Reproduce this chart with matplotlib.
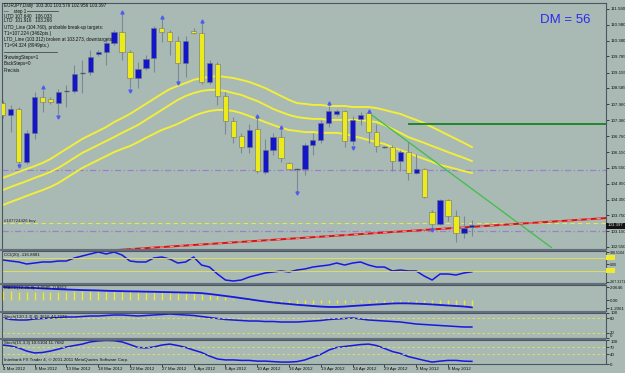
import matplotlib
matplotlib.use('Agg')
import matplotlib.pyplot as plt
from matplotlib.patches import Rectangle
from matplotlib.lines import Line2D

W, H = 625, 373
BG = '#A8BAB3'
SEP = '#636d7c'
YEL = '#EDEA1C'
BLUE = '#1414C8'
WICK = '#7C8894'
BAND = '#F2EE3A'
FONT = 'Liberation Sans'

# ---------------- data ----------------
opens = [108.013, 107.558, 107.785, 105.775, 106.875, 108.241, 108.165, 108.013, 108.469, 108.469,
         109.151, 109.189, 109.872, 109.948, 110.290, 110.707, 109.948, 108.962, 109.341, 109.721,
         110.859, 110.707, 110.366, 109.531, 110.745, 110.669, 108.810, 109.493, 108.279, 107.330,
         106.761, 106.344, 107.027, 105.395, 106.230, 106.723, 105.737, 105.509, 105.509, 106.420,
         106.610, 107.254, 107.596, 107.710, 106.572, 107.406, 107.634, 106.913, 106.344, 106.344,
         105.813, 106.154, 105.357, 105.509, 103.878, 103.422, 104.333, 103.726, 103.081, 103.301]
highs = [108.127, 107.937, 107.861, 106.989, 108.431, 108.506, 108.241, 108.544, 108.696, 109.455,
         109.645, 110.024, 110.024, 110.403, 110.783, 111.390, 110.024, 109.569, 109.834, 110.935,
         111.200, 110.783, 110.555, 110.555, 110.859, 111.086, 109.645, 109.569, 108.431, 107.482,
         106.875, 107.216, 107.444, 106.647, 106.875, 106.989, 105.775, 105.547, 106.496, 106.875,
         107.368, 107.899, 107.786, 107.748, 107.520, 107.672, 107.710, 107.216, 106.382, 106.420,
         106.230, 106.534, 106.078, 105.547, 103.954, 104.371, 104.371, 103.954, 103.726, 103.576]
lows = [107.444, 106.913, 105.661, 105.699, 106.647, 107.672, 107.975, 107.596, 107.861, 108.393,
        108.393, 109.076, 109.796, 109.455, 110.214, 109.645, 108.582, 108.582, 109.265, 109.189,
        110.328, 109.834, 108.772, 109.000, 110.631, 108.734, 108.734, 107.937, 106.837, 106.496,
        106.116, 106.116, 105.357, 105.320, 106.040, 105.775, 105.471, 104.637, 105.282, 106.040,
        106.496, 107.103, 107.520, 106.344, 106.420, 107.179, 106.496, 106.154, 106.306, 105.433,
        105.433, 105.092, 105.320, 104.409, 103.233, 103.385, 103.536, 102.740, 102.891, 102.956]
closes = [107.558, 107.785, 105.775, 106.875, 108.241, 108.051, 108.051, 108.431, 108.469, 109.113,
          109.151, 109.758, 109.948, 110.290, 110.707, 109.948, 108.962, 109.303, 109.682, 110.859,
          110.707, 110.366, 109.531, 110.366, 110.669, 108.810, 109.531, 108.279, 107.330, 106.723,
          106.344, 106.989, 105.433, 106.230, 106.723, 105.927, 105.509, 105.509, 106.420, 106.610,
          107.254, 107.710, 107.710, 106.572, 107.368, 107.558, 106.913, 106.382, 106.344, 105.813,
          106.154, 105.357, 105.509, 104.447, 103.422, 104.333, 103.726, 103.081, 103.271, 103.397]

band_top = [105.17, 105.28, 105.40, 105.51, 105.62, 105.74, 105.89, 106.08, 106.27, 106.46,
            106.65, 106.80, 106.95, 107.10, 107.29, 107.44, 107.60, 107.79, 107.98, 108.17,
            108.36, 108.54, 108.66, 108.77, 108.89, 108.96, 109.00, 109.04, 109.00, 108.96,
            108.89, 108.81, 108.70, 108.58, 108.43, 108.28, 108.13, 108.01, 107.98, 107.94,
            107.94, 107.90, 107.90, 107.90, 107.86, 107.86, 107.86, 107.82, 107.75, 107.67,
            107.60, 107.48, 107.37, 107.25, 107.10, 106.95, 106.80, 106.65, 106.50, 106.34]
band_mid = [104.71, 104.83, 104.94, 105.05, 105.17, 105.28, 105.40, 105.55, 105.74, 105.93,
            106.12, 106.27, 106.42, 106.57, 106.72, 106.88, 107.03, 107.18, 107.37, 107.56,
            107.75, 107.94, 108.13, 108.28, 108.39, 108.47, 108.51, 108.51, 108.47, 108.39,
            108.32, 108.20, 108.09, 107.94, 107.79, 107.67, 107.56, 107.48, 107.44, 107.41,
            107.41, 107.37, 107.37, 107.37, 107.37, 107.37, 107.33, 107.29, 107.18, 107.03,
            106.88, 106.72, 106.61, 106.50, 106.38, 106.27, 106.15, 106.04, 105.93, 105.81]
band_low = [104.14, 104.26, 104.37, 104.49, 104.60, 104.71, 104.83, 104.98, 105.17, 105.36,
            105.55, 105.70, 105.85, 106.00, 106.15, 106.27, 106.38, 106.53, 106.69, 106.84,
            106.99, 107.10, 107.22, 107.37, 107.52, 107.63, 107.71, 107.75, 107.75, 107.71,
            107.63, 107.52, 107.41, 107.29, 107.18, 107.07, 106.99, 106.95, 106.91, 106.91,
            106.88, 106.88, 106.88, 106.84, 106.76, 106.69, 106.61, 106.53, 106.46, 106.34,
            106.23, 106.12, 106.00, 105.89, 105.78, 105.66, 105.59, 105.51, 105.43, 105.36]

frac_up_idx = [5, 15, 20, 25, 32, 35, 41, 46]
frac_up_val = [108.62, 111.47, 111.28, 111.13, 107.52, 107.10, 108.01, 107.71]
frac_dn_idx = [2, 7, 16, 22, 37, 44, 54]
frac_dn_val = [105.62, 107.48, 108.47, 108.77, 104.60, 106.31, 103.19]

cci = [66, 50, 35, 4, 19, 35, 35, 50, 50, 97, 128, 159, 189, 159, 189, 143, 50, 35, 35, 97,
       112, 81, 19, 35, 112, -12, -43, -151, -244, -259, -244, -197, -166, -135, -120, -104, -120,
       -89, -73, -43, -27, -12, 19, -12, 19, 35, -12, -43, -43, -104, -89, -104, -104, -182,
       -244, -151, -151, -166, -135, -117]
macd_hist = [1.40, 1.38, 1.30, 1.25, 1.28, 1.30, 1.30, 1.32, 1.33, 1.38, 1.42, 1.45, 1.50, 1.52,
             1.55, 1.50, 1.40, 1.35, 1.32, 1.35, 1.35, 1.30, 1.22, 1.20, 1.18, 1.00, 0.85, 0.65,
             0.45, 0.25, 0.10, -0.05, -0.15, -0.25, -0.35, -0.40, -0.48, -0.52, -0.55, -0.52,
             -0.48, -0.42, -0.38, -0.35, -0.30, -0.28, -0.30, -0.32, -0.36, -0.42, -0.45, -0.50,
             -0.55, -0.62, -0.72, -0.78, -0.82, -0.88, -0.95, -1.05]
macd_sig = [2.07, 2.03, 2.00, 1.95, 1.92, 1.85, 1.79, 1.73, 1.68, 1.64, 1.59, 1.56, 1.53, 1.48,
            1.45, 1.42, 1.39, 1.37, 1.34, 1.32, 1.29, 1.26, 1.23, 1.20, 1.17, 1.11, 0.98, 0.83,
            0.67, 0.51, 0.33, 0.16, -0.03, -0.19, -0.34, -0.47, -0.58, -0.70, -0.79, -0.89,
            -0.98, -1.04, -1.04, -0.98, -0.89, -0.81, -0.73, -0.65, -0.58, -0.50, -0.47, -0.48,
            -0.53, -0.58, -0.65, -0.73, -0.81, -0.89, -0.97, -1.10]
stoch1 = [80, 74, 72, 72, 76, 78, 80, 82, 84, 84, 86, 88, 88, 90, 92, 92, 90, 88, 90, 92,
          94, 96, 94, 92, 90, 86, 82, 78, 74, 72, 70, 68, 68, 66, 66, 64, 64, 64, 66, 68,
          70, 74, 76, 78, 80, 76, 72, 70, 68, 66, 64, 60, 56, 54, 52, 50, 48, 46, 44, 44]
stoch2 = [79, 75, 67, 54, 46, 48, 54, 62, 71, 77, 83, 92, 96, 98, 97, 92, 81, 69, 67, 71,
          79, 83, 77, 69, 58, 48, 33, 21, 17, 17, 15, 15, 12, 12, 10, 8, 8, 10, 17, 29,
          40, 58, 69, 73, 77, 81, 83, 77, 65, 52, 44, 31, 23, 15, 8, 12, 15, 15, 12, 11]

date_idx = [0, 4, 8, 12, 16, 20, 24, 28, 32, 36, 40, 44, 48, 52, 56]
date_lbl = ['4 Mar 2012', '8 Mar 2012', '13 Mar 2012', '18 Mar 2012', '22 Mar 2012',
            '27 Mar 2012', '1 Apr 2012', '6 Apr 2012', '10 Apr 2012', '16 Apr 2012',
            '19 Apr 2012', '24 Apr 2012', '29 Apr 2012', '3 May 2012', '8 May 2012']
price_ticks = [111.580, 110.980, 110.380, 109.785, 109.155, 108.585, 107.960, 107.360,
               106.760, 106.150, 105.550, 104.950, 104.350, 103.750, 103.150, 102.550]

hline_purple = [105.47, 103.17]
hline_order = 103.46
hline_green = 107.224
green_diag_x = [46, 69]
green_diag_y = [107.65, 102.53]
red_line_x = [10, 76]
red_line_y = [102.35, 103.65]
last_price = 103.397

info_lines = ['EURJPY,Daily  103.301 103.576 102.956 103.397',
              '',
              'UTD 107.640   106.033',
              'LTD  101.916   103.266',
              'UTD_Line (104.760), probable break-up targets:',
              'T1=107.224 (3462pts.)',
              'LTD_Line (103.312) broken at 103.273, downtargets:',
              'T1=94.324 (8949pts.)',
              '',
              'ShowingSteps=1',
              'BackSteps=0',
              'Precisis']
info_y = [5, 11, 16, 21, 27, 33, 39, 45, 52, 58, 64, 70]

# ---------------- figure ----------------
fig = plt.figure(figsize=(W / 100, H / 100), dpi=100)
fig.patch.set_facecolor(BG)
L, R = 2, 606
XL = (-0.1, 75.87)


def add_ax(top, bottom):
    ax = fig.add_axes([L / W, 1 - bottom / H, (R - L) / W, (bottom - top) / H])
    ax.set_facecolor(BG)
    ax.set_xlim(*XL)
    for s in ax.spines.values():
        s.set_color('#4e5664')
        s.set_linewidth(0.8)
    ax.yaxis.tick_right()
    ax.tick_params(axis='y', labelsize=3.2, length=2, pad=1, width=0.5, colors='#101010')
    ax.tick_params(axis='x', length=0, labelbottom=False)
    return ax


def fontify(a):
    for t in a.get_yticklabels() + a.get_xticklabels():
        t.set_fontfamily(FONT)


ax = add_ax(3, 249)
ax.set_ylim(102.474, 111.807)

n = len(opens)
for i in range(n):
    o, h, l, c = opens[i], highs[i], lows[i], closes[i]
    ax.vlines(i, l, h, color=WICK, lw=0.8, zorder=3)
    if c == o:
        ax.hlines(o, i - 0.35, i + 0.35, color='#505860', lw=0.9, zorder=4)
    else:
        face = BLUE if c > o else YEL
        ax.add_patch(Rectangle((i - 0.33, min(o, c)), 0.66, abs(c - o), facecolor=face,
                               edgecolor='#6c7480', lw=0.4, zorder=4))

xs = list(range(n))
for band in (band_top, band_mid, band_low):
    ax.plot(xs, band, color=BAND, lw=1.4, zorder=2)

ax.plot(frac_up_idx, frac_up_val, ls='none', marker='^', ms=2.2, color='#4f5cf0', zorder=5)
ax.plot(frac_dn_idx, frac_dn_val, ls='none', marker='v', ms=2.2, color='#4f5cf0', zorder=5)

for p in hline_purple:
    ax.axhline(p, color='#9a7fd0', lw=0.9, ls=(0, (5, 2, 1, 2)), zorder=1)
ax.axhline(hline_order, color='#e8e45a', lw=0.8, ls=(0, (4, 3)), zorder=1)
ax.hlines(hline_green, 51, XL[1], color='#0a7d14', lw=1.2, zorder=2)
ax.plot(green_diag_x, green_diag_y, color='#3cc048', lw=0.9, zorder=2)
ax.plot(red_line_x, red_line_y, color='#e01010', lw=1.4, zorder=2)
ax.plot(red_line_x, red_line_y, color='#e88a8a', lw=1.0, ls=(0, (3, 4)), zorder=2)

ax.set_yticks(price_ticks)
ax.set_yticklabels(['%.3f' % v for v in price_ticks])
fontify(ax)

# current price box
fig.add_artist(Rectangle((606 / W, 1 - 228.5 / H), 19 / W, 6 / H, transform=fig.transFigure,
                         facecolor='#141414', edgecolor='none', zorder=10))
fig.text(608 / W, 1 - 225.5 / H, '%.3f' % last_price, fontsize=3.2, color='#d8d8d8',
         va='center', ha='left', family=FONT, zorder=11)

# ---- CCI ----
ax1 = add_ax(251, 283)
ax1.set_ylim(-290, 205)
ax1.plot(xs, cci, color='#1818e0', lw=1.1)
ax1.axhline(100, color='#e8e44a', lw=0.6)
ax1.axhline(-100, color='#e8e44a', lw=0.6)
ax1.set_yticks([188.5104, 0, -267.3171])
ax1.set_yticklabels(['188.5104', '0.00', '-267.3171'])
ax1.tick_params(axis='y', labelsize=2.6, pad=0.6)
fontify(ax1)
for lv in (100, -100):
    yy = 251 + (205 - lv) / 495 * 32
    fig.add_artist(Rectangle((606 / W, 1 - (yy + 2.5) / H), 9 / W, 5 / H,
                             transform=fig.transFigure, facecolor='#eeea30',
                             edgecolor='none', zorder=10))

# ---- MACD ----
ax2 = add_ax(285, 311)
ax2.set_ylim(-1.67, 2.38)
ax2.vlines(xs, 0, macd_hist, color='#ece832', lw=1.0)
ax2.plot(xs, macd_sig, color='#1818e0', lw=1.3)
ax2.set_yticks([2.0646, 0, -1.2061])
ax2.set_yticklabels(['2.0646', '0.00', '-1.2061'])
fontify(ax2)

# ---- Stoch 1 ----
ax3 = add_ax(313, 338)
ax3.set_ylim(0, 100)
ax3.plot(xs, stoch1, color='#1818e0', lw=1.1)
for lv in (80, 20):
    ax3.axhline(lv, color='#e8e44a', lw=0.6, ls=(0, (3, 3)))
ax3.set_yticks([100, 80, 20, 0])
ax3.set_yticklabels(['100', '80', '20', '0'])
fontify(ax3)
ax3.get_yticklabels()[-1].set_verticalalignment('bottom')

# ---- Stoch 2 ----
ax4 = add_ax(340, 364)
ax4.set_ylim(0, 100)
ax4.plot(xs, stoch2, color='#1818e0', lw=1.1)
for lv in (70, 40):
    ax4.axhline(lv, color='#e8e44a', lw=0.6, ls=(0, (3, 3)))
ax4.set_yticks([100, 70, 40, 0])
ax4.set_yticklabels(['100', '70', '40', '0'])
ax4.set_xticks(date_idx)
ax4.set_xticklabels(date_lbl, ha='left')
ax4.tick_params(axis='x', length=2, width=0.5, labelbottom=True, labelsize=3.2, pad=0.5,
                colors='#101010')
fontify(ax4)
ax4.get_yticklabels()[0].set_verticalalignment('top')

# separators
for top, bot in ((249, 251), (283, 285), (311, 313), (338, 340)):
    fig.add_artist(Rectangle((0, 1 - bot / H), R / W, (bot - top) / H, transform=fig.transFigure,
                             facecolor=SEP, edgecolor='none', zorder=9))


# texts
def ftxt(x, y, s, **kw):
    fig.text(x / W, 1 - y / H, s, va='center', ha='left', family=FONT, **kw)


for s, y in zip(info_lines, info_y):
    if s:
        ftxt(4, y, s, fontsize=3.3, color='#111111')
ftxt(4, 11, '—    step 1', fontsize=3.3, color='#111111')
fig.add_artist(Line2D([27 / W, 58 / W], [1 - 11 / H, 1 - 11 / H], transform=fig.transFigure,
                      color='#333333', lw=0.5))
fig.add_artist(Line2D([4 / W, 57 / W], [1 - 52 / H, 1 - 52 / H], transform=fig.transFigure,
                      color='#333333', lw=0.5))
ftxt(4, 221, '#107724426 buy', fontsize=3.1, color='#222222')
ftxt(540, 20, 'DM = 56', fontsize=9.5, color='#2b2bf0')

ftxt(4, 255, 'CCI(20) -116.8881', fontsize=3.2, color='#111111')
ftxt(4, 288, 'MACD(12,26,9) -1.0505 -0.8812', fontsize=3.2, color='#111111')
ftxt(4, 317, 'Stoch(120,3,3) 45.3616 44.7273', fontsize=3.2, color='#111111')
ftxt(4, 343, 'Stoch(15,3,3) 10.6104 11.7682', fontsize=3.2, color='#111111')
ftxt(4, 360, 'Interbank FX Trader 4, © 2001-2011 MetaQuotes Software Corp.', fontsize=3.2,
     color='#111111')

fig.savefig('out.png', dpi=100, facecolor=BG)
